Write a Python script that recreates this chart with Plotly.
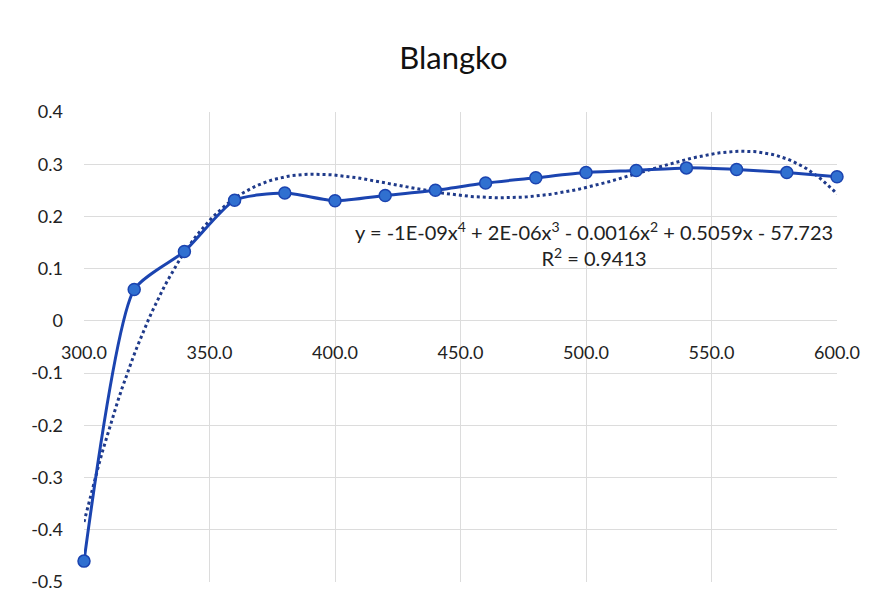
"""
Blangko absorbance curve with 4th order polynomial trendline.
"""
import numpy as np
import plotly.graph_objects as go

# Data
wavelength = [300, 320, 340, 360, 380, 400, 420, 440, 460, 480, 500, 520, 540, 560, 580, 600]
absorbance = [-0.46, 0.06, 0.133, 0.231, 0.245, 0.23, 0.24, 0.25, 0.264, 0.274,
              0.284, 0.288, 0.293, 0.29, 0.284, 0.276]

y_ticks = [0.4, 0.3, 0.2, 0.1, 0, -0.1, -0.2, -0.3, -0.4, -0.5]
y_tick_labels = ["0.4", "0.3", "0.2", "0.1", "0", "-0.1", "-0.2", "-0.3", "-0.4", "-0.5"]
x_ticks = [300, 350, 400, 450, 500, 550, 600]

equation_text = "y = -1E-09x<sup>4</sup> + 2E-06x<sup>3</sup> - 0.0016x<sup>2</sup> + 0.5059x - 57.723"
r2_text = "R<sup>2</sup> = 0.9413"

LINE_COLOR = '#1b44b0'
MARKER_COLOR = '#3070d0'
TREND_COLOR = '#1f3a8a'
GRID_COLOR = '#dcdcdc'
TEXT_COLOR = '#222222'
FONT = 'Lato'

# Excel-style polynomial trendline (order 4) fitted to the series
poly = np.polynomial.Polynomial.fit(wavelength, absorbance, 4)
trend_x = np.linspace(min(wavelength), max(wavelength), 200)
trend_y = poly(trend_x)

fig = go.Figure()

fig.add_trace(go.Scatter(
    x=trend_x, y=trend_y,
    mode='lines',
    line=dict(color=TREND_COLOR, width=3, dash='dot'),
    cliponaxis=False,
    showlegend=False
))

fig.add_trace(go.Scatter(
    x=wavelength, y=absorbance,
    mode='lines+markers',
    line=dict(color=LINE_COLOR, width=3, shape='spline', smoothing=0.6),
    marker=dict(size=12, color=MARKER_COLOR, line=dict(color=LINE_COLOR, width=1.5)),
    cliponaxis=False,
    showlegend=False
))

fig.add_annotation(
    x=503, y=0.148, xref='x', yref='y',
    text=equation_text + "<br>" + r2_text,
    showarrow=False, align='center',
    font=dict(family=FONT, size=20, color=TEXT_COLOR)
)

# page body adds an 8px offset, so margins are shifted to compensate
fig.update_layout(
    width=882, height=605,
    title=dict(text="Blangko", x=0.505, xanchor='center', y=0.917, yanchor='middle',
               font=dict(family=FONT, size=31, color='#111111')),
    paper_bgcolor='white',
    plot_bgcolor='white',
    margin=dict(l=76, r=53, t=104, b=31),
    font=dict(family=FONT, size=18, color=TEXT_COLOR),
    xaxis=dict(
        range=[300, 600],
        tickvals=x_ticks,
        tickformat='.1f',
        showgrid=True, gridcolor=GRID_COLOR, gridwidth=1,
        zeroline=False, showline=False,
        anchor='free', position=262 / 470,
        ticklabelstandoff=20,
    ),
    yaxis=dict(
        range=[-0.5, 0.4],
        tickvals=y_ticks,
        ticktext=y_tick_labels,
        showgrid=True, gridcolor=GRID_COLOR, gridwidth=1,
        zeroline=True, zerolinecolor=GRID_COLOR, zerolinewidth=1,
        showline=False,
        ticklabelstandoff=20,
    ),
)

fig.write_html("out.html")
